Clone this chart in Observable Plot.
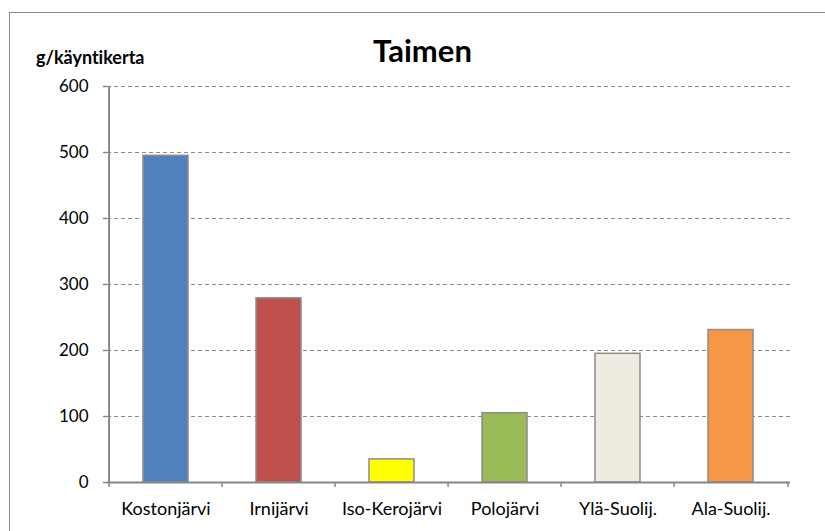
<!DOCTYPE html>
<html><head><meta charset="utf-8">
<script src="https://cdn.jsdelivr.net/npm/d3@7"></script>
<script src="https://cdn.jsdelivr.net/npm/@observablehq/plot@0.6"></script>
<style>
body{margin:0;background:#fff;}
#wrap{position:relative;width:825px;height:531px;overflow:hidden;font-family:Lato,sans-serif;color:#000;font-variant-ligatures:none;}
#border{position:absolute;left:9px;top:12px;width:900px;height:600px;border:1.5px solid #8a8a8a;box-sizing:border-box;}
#title{position:absolute;left:0;width:845px;text-align:center;top:35px;font-weight:bold;font-size:31px;line-height:1;}
#ylab{position:absolute;left:36px;top:48px;font-weight:bold;font-size:18px;line-height:1;}
#chart{position:absolute;left:0;top:0;}
svg text{font-variant-ligatures:none;}
</style></head>
<body>
<div id="wrap">
  <div id="border"></div>
  <div id="chart"></div>
  <div id="title">Taimen</div>
  <div id="ylab">g/käyntikerta</div>
</div>
<script>
const categories = ["Kostonjärvi","Irnijärvi","Iso-Kerojärvi","Polojärvi","Ylä-Suolij.","Ala-Suolij."];
const values = [495, 279, 35, 105, 195, 231];
const yTicks = [0,100,200,300,400,500,600];
const barColors = ["#4F81BD","#C0504D","#FFFF00","#9BBB59","#EEECE1","#F79646"];
const data = categories.map((c,i)=>({name:c, value:values[i]}));

const W=825, H=531, mL=107, mR=35, mT=86, mB=49;
const step = (W-mL-mR)/categories.length;
const axisColor = "#868686";

const chart = Plot.plot({
  width:W, height:H, marginLeft:mL, marginRight:mR, marginTop:mT, marginBottom:mB,
  style:{fontFamily:"Lato, sans-serif", background:"transparent", color:"#000"},
  x:{domain:categories, paddingInner:0.6, paddingOuter:0.3, label:null},
  y:{domain:[0,600], label:null},
  color:{domain:categories, range:barColors},
  marks:[
    Plot.gridY(yTicks.filter(d=>d>0), {stroke:"#8a8a8a", strokeOpacity:1, strokeDasharray:"4,3", strokeWidth:1}),
    Plot.barY(data,{x:"name", y:"value", fill:"name", stroke:"#8c8c8c", strokeWidth:1.5}),
    Plot.ruleY([0],{stroke:axisColor, strokeWidth:2}),
    Plot.ruleX([categories[0]],{dx:-step/2, stroke:axisColor, strokeWidth:2}),
    Plot.axisX({ticks:categories, tickSize:5, text:null, label:null, dx:-step/2, stroke:axisColor, strokeWidth:1.5}),
    Plot.axisX({ticks:[categories[categories.length-1]], tickSize:5, text:null, label:null, dx:step/2, stroke:axisColor, strokeWidth:1.5}),
    Plot.axisX({tickSize:0, tickPadding:20, fontSize:18, label:null}),
    Plot.axisY({ticks:yTicks, tickSize:4, tickPadding:15, fontSize:17, stroke:axisColor, strokeWidth:1.5, label:null})
  ]
});
document.getElementById("chart").appendChild(chart);
</script>
</body></html>
